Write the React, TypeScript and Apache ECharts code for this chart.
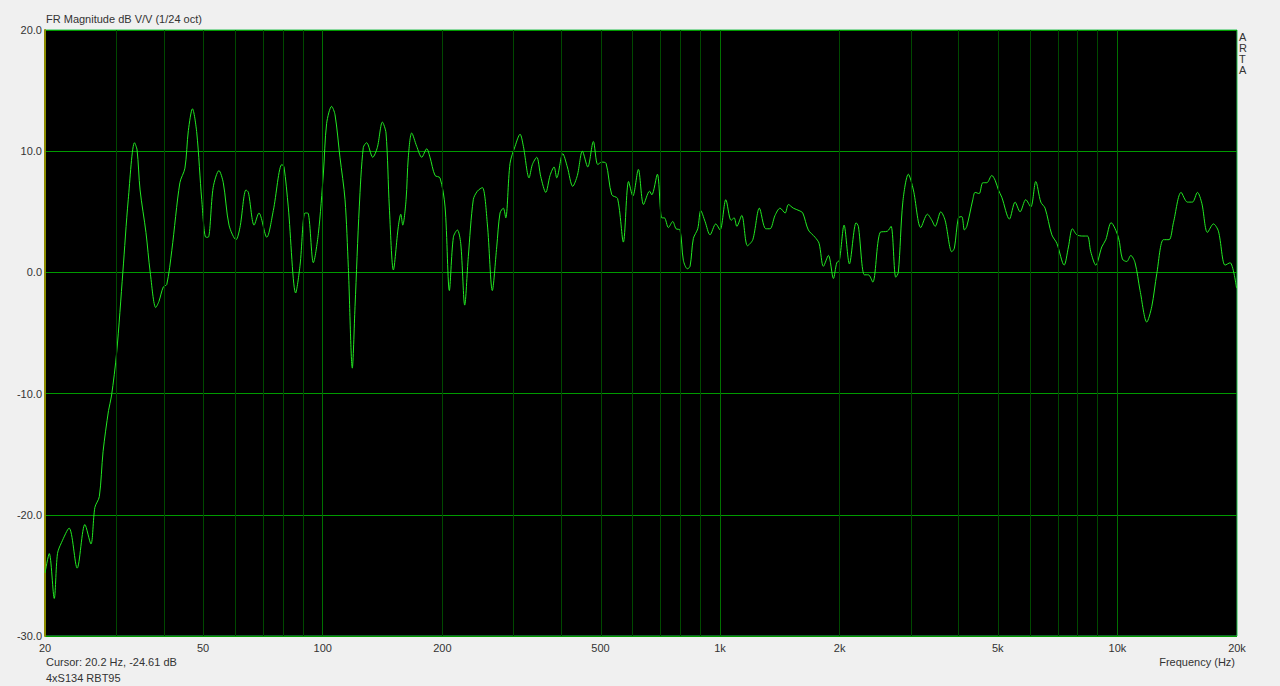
import React, { useEffect, useRef } from "react";
import * as echarts from "echarts";

// Frequency (Hz) and magnitude (dB)
const freqHz: number[] = [
  20.0, 20.5, 21.1, 21.5, 22.0, 23.0, 24.1, 25.2, 26.1, 26.7, 27.4, 28.0, 28.9, 29.4,
  30.3, 31.4, 32.4, 33.6, 34.1, 34.7, 35.9, 36.8, 38.0, 38.7, 39.7, 40.5, 41.7, 43.7,
  45.0, 45.9, 47.0, 48.2, 49.6, 50.8, 51.5, 53.0, 54.8, 56.2, 58.1, 60.5, 61.9, 64.1,
  65.0, 67.2, 69.1, 72.3, 75.1, 78.9, 79.9, 81.9, 85.5, 87.7, 90.2, 91.7, 94.7, 97.5,
  100.4, 102.3, 105.3, 107.4, 110.5, 113.8, 116.0, 118.7, 120.6, 123.6, 126.5, 129.0,
  133.6, 137.2, 141.3, 144.3, 147.1, 150.6, 155.0, 157.2, 159.0, 162.1, 164.2, 167.5,
  172.4, 177.5, 182.7, 186.2, 191.7, 197.3, 203.2, 208.3, 213.2, 218.2, 222.5, 227.7,
  232.5, 239.3, 245.0, 252.2, 259.6, 267.2, 274.1, 279.4, 284.8, 288.8, 296.1, 304.8,
  313.8, 319.9, 330.6, 337.0, 345.7, 353.8, 364.2, 373.4, 382.2, 388.1, 401.9, 412.7,
  425.8, 437.4, 450.3, 464.5, 479.9, 492.2, 503.8, 516.5, 533.9, 552.1, 571.0, 588.5,
  603.3, 622.9, 641.9, 664.6, 673.2, 695.4, 713.4, 724.1, 741.2, 760.2, 774.9, 793.1,
  808.4, 827.4, 840.5, 856.7, 878.7, 894.2, 916.7, 943.7, 975.5, 1000, 1034, 1066,
  1085, 1102, 1134, 1172, 1209, 1256, 1303, 1336, 1375, 1416, 1458, 1486, 1529, 1581,
  1615, 1668, 1734, 1775, 1820, 1874, 1929, 1967, 1997, 2052, 2116, 2200, 2229, 2308,
  2362, 2423, 2528, 2637, 2694, 2768, 2810, 2884, 2978, 3066, 3200, 3326, 3412, 3478,
  3594, 3685, 3830, 3888, 3979, 4059, 4121, 4179, 4326, 4384, 4488, 4585, 4692, 4830,
  4924, 5019, 5118, 5348, 5528, 5690, 5880, 6054, 6232, 6416, 6577, 6839, 7040, 7344,
  7530, 7705, 7906, 8186, 8407, 8570, 8823, 9135, 9350, 9642, 10058, 10294, 10558,
  10806, 11078, 11405, 11858, 12208, 12566, 13058, 13496, 13836, 14468, 15008, 15446,
  15900, 16312, 16852, 17448, 17960, 18666, 19216, 19950,
];

const magDb: number[] = [
  -24.8, -23.2, -26.9, -23.2, -22.3, -21.1, -24.4, -20.8, -22.4, -19.4, -18.5, -14.8, -11.4, -10.2,
  -6.6, 0.0, 6.0, 10.7, 10.1, 6.8, 3.3, 0.0, -2.9, -2.4, -1.2, -1.0, 1.8, 7.4,
  8.6, 11.7, 13.5, 11.5, 6.0, 2.9, 2.9, 7.0, 8.4, 7.4, 3.9, 2.7, 3.7, 6.8,
  6.6, 3.9, 4.9, 2.9, 5.1, 8.9, 8.7, 5.4, -1.7, 0.6, 4.9, 4.9, 0.8, 3.2,
  8.2, 12.3, 13.7, 13.0, 9.5, 6.0, 0.4, -7.9, -2.8, 5.4, 10.3, 10.7,
  9.5, 10.3, 12.4, 11.5, 5.4, 0.2, 3.8, 4.8, 3.9, 6.0, 9.5, 11.5,
  10.4, 9.5, 10.2, 9.5, 8.0, 7.8, 5.4, -1.5, 2.9, 3.5, 2.4, -2.7,
  1.3, 6.0, 6.7, 7.0, 4.0, -1.5, 2.1, 4.9, 5.3, 4.5, 9.0, 10.4,
  11.4, 10.4, 7.8, 8.9, 9.5, 7.9, 6.6, 8.0, 8.7, 7.8, 9.8, 8.7,
  7.1, 8.0, 10.0, 8.7, 10.8, 8.9, 9.1, 9.0, 6.4, 6.1, 2.5, 7.5,
  6.3, 8.5, 5.6, 6.7, 6.4, 8.1, 4.5, 4.5, 3.7, 4.2, 3.6, 3.5,
  1.0, 0.3, 0.5, 2.8, 3.6, 5.1, 4.2, 3.1, 4.0, 3.5, 6.0, 4.3,
  4.5, 3.8, 4.7, 2.2, 2.7, 5.3, 3.6, 3.6, 4.7, 5.3, 4.9, 5.6, 5.3, 5.1,
  4.9, 3.5, 2.9, 2.4, 0.5, 1.4, -0.5, 0.8, 1.0, 3.9, 0.7, 4.1, 3.8, -0.2,
  -0.2, -0.8, 3.3, 3.4, 3.8, -0.4, 0.0, 5.8, 8.1, 6.8, 3.7, 4.8, 4.3, 3.8,
  5.0, 4.3, 1.7, 2.0, 4.5, 4.6, 3.5, 3.8, 6.0, 6.6, 6.5, 7.4, 7.4, 8.0,
  7.6, 6.8, 6.2, 4.4, 5.8, 5.0, 6.0, 5.4, 7.5, 5.8, 5.3, 3.1, 2.4, 0.6,
  2.1, 3.6, 3.1, 3.0, 3.0, 1.7, 0.6, 2.1, 2.7, 4.1, 2.9, 1.1, 0.9,
  1.4, 0.8, -1.5, -4.1, -2.8, -0.1, 2.7, 2.7, 4.1, 6.6, 5.8, 5.8,
  6.6, 5.7, 3.3, 4.0, 3.4, 0.6, 0.8, -1.3,
];

const xTickLabels: number[] = [20, 50, 100, 200, 500, 1000, 2000, 5000, 10000, 20000];
const minorGridHz: number[] = [
  30, 40, 50, 60, 70, 80, 90, 200, 300, 400, 500, 600, 700, 800, 900,
  2000, 3000, 4000, 5000, 6000, 7000, 8000, 9000,
];
const decadeGridHz: number[] = [100, 1000, 10000];

const FONT = "'Liberation Sans', Arial, sans-serif";

export default function App() {
  const ref = useRef<HTMLDivElement>(null);

  useEffect(() => {
    if (!ref.current) return;
    const chart = echarts.init(ref.current, undefined, { renderer: "svg" });
    const lg = (f: number) => Math.log10(f);
    const data = freqHz.map((f, i) => [lg(f), magDb[i]]);
    const fmtHz = (v: number) => {
      const f = Math.round(Math.pow(10, v));
      return f >= 1000 ? `${f / 1000}k` : `${f}`;
    };

    chart.setOption({
      animation: false,
      backgroundColor: "#f0f0f0",
      grid: {
        left: 45,
        top: 30,
        right: 43,
        bottom: 50,
        show: true,
        backgroundColor: "#000000",
        borderColor: "#28c050",
        borderWidth: 1,
      },
      xAxis: {
        type: "value",
        min: lg(20),
        max: lg(20000),
        axisLine: { show: false },
        axisTick: { show: false, customValues: xTickLabels.map(lg) },
        splitLine: { show: false },
        axisLabel: {
          customValues: xTickLabels.map(lg),
          formatter: fmtHz,
          color: "#333333",
          fontFamily: FONT,
          fontSize: 11,
          margin: 6,
          align: "center",
          hideOverlap: false,
        },
      },
      yAxis: {
        type: "value",
        min: -30,
        max: 20,
        interval: 10,
        axisLine: { show: true, lineStyle: { color: "#8c8c00", width: 2 } },
        axisTick: { show: false },
        splitLine: { show: true, lineStyle: { color: "#009a00", width: 1 } },
        axisLabel: {
          formatter: (v: number) => v.toFixed(1),
          color: "#333333",
          fontFamily: FONT,
          fontSize: 11,
          margin: 3,
        },
      },
      series: [
        {
          type: "line",
          data: [],
          z: 1,
          silent: true,
          markLine: {
            silent: true,
            symbol: "none",
            label: { show: false },
            animation: false,
            data: [
              ...minorGridHz.map((f) => ({ xAxis: lg(f), lineStyle: { color: "#004800", width: 1, type: "solid" } })),
              ...decadeGridHz.map((f) => ({ xAxis: lg(f), lineStyle: { color: "#007000", width: 1, type: "solid" } })),
            ],
          },
        },
        {
          type: "line",
          data,
          z: 3,
          showSymbol: false,
          smooth: 0.3,
          lineStyle: { color: "#22e822", width: 1 },
          silent: true,
        },
      ],
      graphic: [
        {
          type: "text",
          left: 46,
          top: 13,
          style: { text: "FR Magnitude dB V/V (1/24 oct)", fill: "#333333", font: `11px ${FONT}` },
        },
        {
          type: "text",
          left: 1239,
          top: 31,
          style: { text: "A\nR\nT\nA", fill: "#333333", font: `11px ${FONT}`, lineHeight: 11 },
        },
        {
          type: "text",
          left: 46,
          top: 656,
          style: { text: "Cursor: 20.2 Hz, -24.61 dB", fill: "#333333", font: `11px ${FONT}` },
        },
        {
          type: "text",
          left: 46,
          top: 672,
          style: { text: "4xS134 RBT95", fill: "#333333", font: `11px ${FONT}` },
        },
        {
          type: "text",
          right: 45,
          top: 656,
          style: { text: "Frequency (Hz)", fill: "#333333", font: `11px ${FONT}` },
        },
      ],
    });

    return () => chart.dispose();
  }, []);

  return (
    <div
      ref={ref}
      style={{ position: "fixed", left: 0, top: 0, width: 1280, height: 686, background: "#f0f0f0" }}
    />
  );
}
